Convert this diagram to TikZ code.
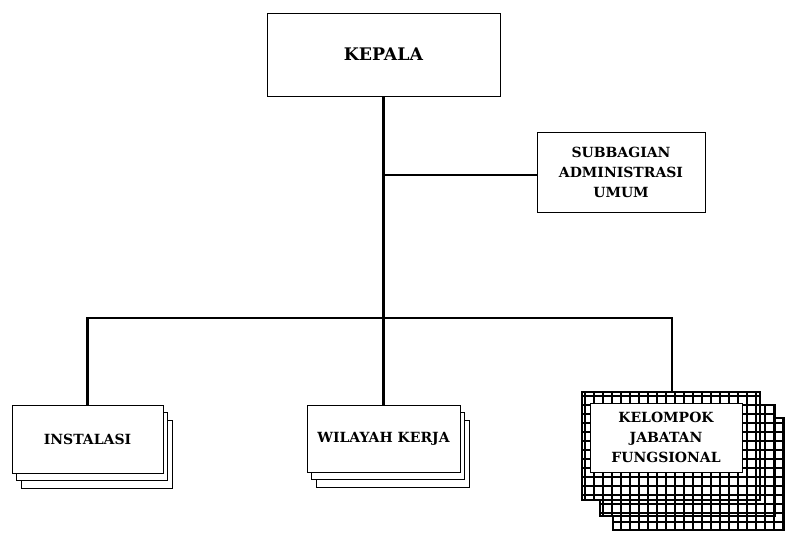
\documentclass[tikz,border=0pt]{standalone}
\usepackage{fontspec}
\setmainfont{DejaVu Serif}
\usetikzlibrary{shadows}

\begin{document}
\begin{tikzpicture}[x=0.75pt,y=-0.75pt,
  unit/.style={draw,line width=0.6pt,fill=white,align=center,inner sep=0pt,
    font=\bfseries\fontsize{10.5}{15}\selectfont},
  stack/.style={unit,double copy shadow={shadow xshift=3.4pt,shadow yshift=-5.6pt}},
  link/.style={line width=2.2pt},
  hatch/.style={line width=0.9pt}]
\useasboundingbox (0,0) rectangle (785,533);
% kotak utama
\node[unit,minimum width=174.75pt,minimum height=62.25pt,font=\bfseries\fontsize{13}{15}\selectfont] (kepala) at (383.5,54.5) {KEPALA};
\node[unit,minimum width=126pt,minimum height=60pt] (subbag) at (621,172) {SUBBAGIAN\\ADMINISTRASI\\UMUM};
\node[stack,minimum width=113.25pt,minimum height=51pt] (instalasi) at (87.5,439) {INSTALASI};
\node[stack,minimum width=114.75pt,minimum height=50.25pt] (wilayah) at (383.5,438.5) {WILAYAH KERJA};
% kelompok jabatan fungsional (kotak bergaris)
\foreach \x/\y/\u/\v in {613/418/785/530, 600/405/775/516, 582/392/760/500}{
  \fill[white] (\x,\y) rectangle (\u,\v);
  \begin{scope}
    \clip (\x,\y) rectangle (\u,\v);
    \draw[hatch,step=6.75pt] (\x,\v) grid (\u,\y);
  \end{scope}
  \draw[hatch] (\x,\y) rectangle (\u,\v);
}
\node[unit,minimum width=114pt,minimum height=51.75pt] (kelompok) at (666,437.5) {KELOMPOK\\JABATAN\\FUNGSIONAL};
% garis
\coordinate (bus) at (384,318);
\coordinate (jf) at (672,392);
\draw[link] (kepala.south) -- (wilayah.north);
\draw[link] (kepala.south |- 0,175) -- (subbag.west |- 0,175);
\draw[link] (instalasi.north) |- (bus) -| (jf);
\end{tikzpicture}
\end{document}
